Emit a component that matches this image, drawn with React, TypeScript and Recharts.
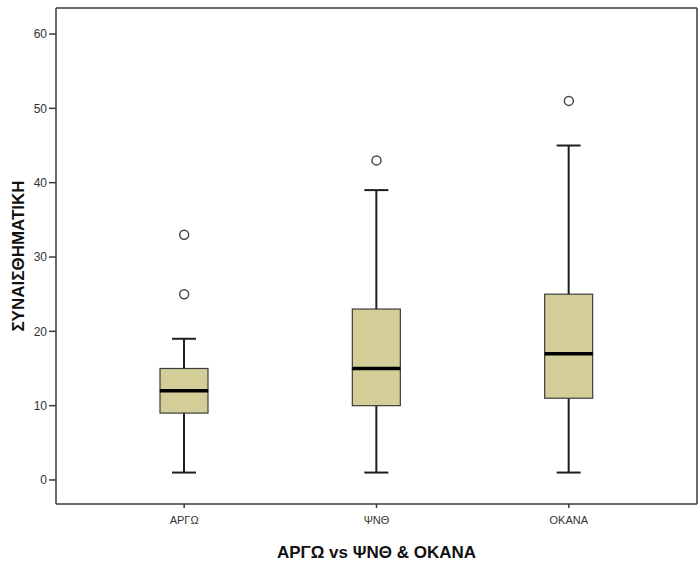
import React from 'react'
import { ComposedChart, Bar, Line, XAxis, YAxis } from 'recharts'

const categories = ['ΑΡΓΩ', 'ΨΝΘ', 'ΟΚΑΝΑ']
const whiskerLow = [1, 1, 1]
const q1 = [9, 10, 11]
const median = [12, 15, 17]
const q3 = [15, 23, 25]
const whiskerHigh = [19, 39, 45]
const outliers = [[25, 33], [43], [51]]
const yTicks = [0, 10, 20, 30, 40, 50, 60]

const data = categories.map((name, i) => ({
  name,
  base: whiskerLow[i],
  lowW: q1[i] - whiskerLow[i],
  lowBox: median[i] - q1[i],
  highBox: q3[i] - median[i],
  highW: whiskerHigh[i] - q3[i],
  out1: outliers[i][0] ?? null,
  out2: outliers[i][1] ?? null
}))

const FRAME = '#3a3a3a'
const BOX_FILL = '#d3ce98'
const Y_DOMAIN = [-3.23, 63.5]
const X_PAD = { left: 32, right: 32 }
const CAP = 12

const LowWhisker = ({ x, y, width, height }: any) => {
  const cx = x + width / 2
  return (
    <g stroke="#1e1e1e" strokeWidth={2}>
      <line x1={cx} x2={cx} y1={y} y2={y + height} />
      <line x1={cx - CAP} x2={cx + CAP} y1={y + height} y2={y + height} />
    </g>
  )
}

const HighWhisker = ({ x, y, width, height }: any) => {
  const cx = x + width / 2
  return (
    <g stroke="#1e1e1e" strokeWidth={2}>
      <line x1={cx} x2={cx} y1={y} y2={y + height} />
      <line x1={cx - CAP} x2={cx + CAP} y1={y} y2={y} />
    </g>
  )
}

const LowBox = ({ x, y, width, height }: any) => (
  <rect x={x} y={y} width={width} height={height} fill={BOX_FILL} stroke="#3c3c3c" strokeWidth={1.2} />
)

// upper half of the box, median line drawn on its lower edge
const HighBox = ({ x, y, width, height }: any) => (
  <g>
    <rect x={x} y={y} width={width} height={height} fill={BOX_FILL} stroke="#3c3c3c" strokeWidth={1.2} />
    <line x1={x} x2={x + width} y1={y + height} y2={y + height} stroke="#000" strokeWidth={3.5} />
  </g>
)

const outlierDot = (p: any) => {
  if (p.value == null || p.cy == null) return <g key={`o-${p.dataKey}-${p.index}`} />
  return (
    <circle
      key={`o-${p.dataKey}-${p.index}`}
      cx={p.cx}
      cy={p.cy}
      r={4.5}
      fill="#fff"
      stroke="#4a4a4a"
      strokeWidth={1.5}
    />
  )
}

export default function App() {
  return (
    <div style={{ position: 'absolute', left: 0, top: 0, fontFamily: '"Liberation Sans", Arial, sans-serif' }}>
      <ComposedChart width={700} height={563} data={data} margin={{ top: 7, right: 2, left: 0, bottom: 0 }}>
        <XAxis
          dataKey="name"
          height={59}
          padding={X_PAD}
          axisLine={{ stroke: FRAME, strokeWidth: 1.5 }}
          tickLine={{ stroke: FRAME, strokeWidth: 1.5 }}
          tickSize={4}
          tickMargin={8}
          tick={{ fontSize: 11, fill: '#333' }}
          label={{
            value: 'ΑΡΓΩ vs ΨΝΘ & ΟΚΑΝΑ',
            position: 'insideBottom',
            offset: 5,
            style: { fontSize: 17, fontWeight: 'bold', fill: '#111' }
          }}
        />
        <XAxis
          xAxisId="top"
          orientation="top"
          dataKey="name"
          height={1}
          padding={X_PAD}
          tick={false}
          tickLine={false}
          axisLine={{ stroke: FRAME, strokeWidth: 1.5 }}
        />
        <YAxis
          width={56}
          domain={Y_DOMAIN}
          ticks={yTicks}
          allowDataOverflow
          axisLine={{ stroke: FRAME, strokeWidth: 1.5 }}
          tickLine={{ stroke: FRAME, strokeWidth: 1.5 }}
          tickSize={7}
          tickMargin={2}
          tick={{ fontSize: 12, fill: '#333' }}
          label={{
            value: 'ΣΥΝΑΙΣΘΗΜΑΤΙΚΗ',
            angle: -90,
            position: 'insideLeft',
            offset: 18,
            style: { fontSize: 17, fontWeight: 'bold', fill: '#111', textAnchor: 'middle' }
          }}
        />
        <YAxis
          yAxisId="right"
          orientation="right"
          width={1}
          domain={Y_DOMAIN}
          allowDataOverflow
          tick={false}
          tickLine={false}
          axisLine={{ stroke: FRAME, strokeWidth: 1.5 }}
        />
        <Bar dataKey="base" stackId="box" barSize={48} fill="transparent" isAnimationActive={false} />
        <Bar dataKey="lowW" stackId="box" barSize={48} shape={(p: any) => <LowWhisker {...p} />} isAnimationActive={false} />
        <Bar dataKey="lowBox" stackId="box" barSize={48} shape={(p: any) => <LowBox {...p} />} isAnimationActive={false} />
        <Bar dataKey="highBox" stackId="box" barSize={48} shape={(p: any) => <HighBox {...p} />} isAnimationActive={false} />
        <Bar dataKey="highW" stackId="box" barSize={48} shape={(p: any) => <HighWhisker {...p} />} isAnimationActive={false} />
        <Line xAxisId="top" yAxisId="right" dataKey="out1" stroke="none" dot={outlierDot} activeDot={false} isAnimationActive={false} />
        <Line xAxisId="top" yAxisId="right" dataKey="out2" stroke="none" dot={outlierDot} activeDot={false} isAnimationActive={false} />
      </ComposedChart>
    </div>
  )
}
